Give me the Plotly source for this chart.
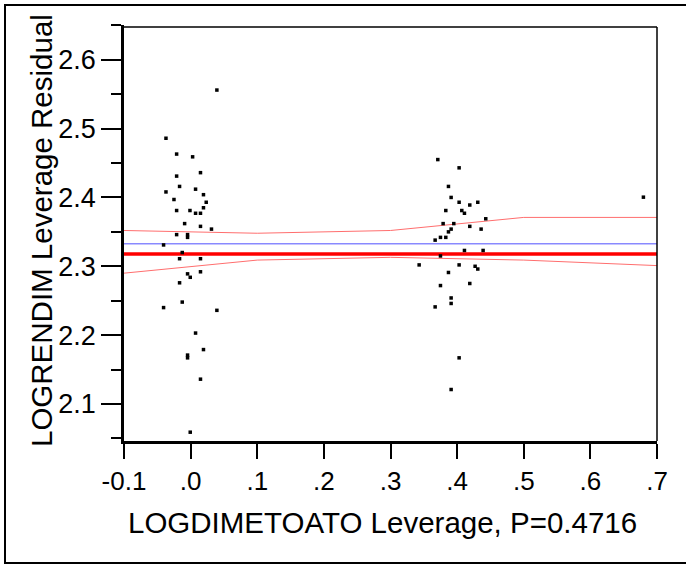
import plotly.graph_objects as go

# ---- data ----
lev_x_a = [0.0394, -0.037, -0.021, 0.003, 0.0148, -0.021, -0.0166, 0.0074, -0.037, 0.0193,
           -0.025, 0.0234, 0.0193, -0.021, -0.001, 0.0074, 0.0148, -0.009, 0.0148, 0.0313,
           -0.021, -0.0046, -0.0046, -0.0406, -0.0126, -0.0166, 0.0148, -0.0046, -0.0006, 0.0148,
           -0.0166, -0.0126, -0.0406, 0.0394, 0.0074, 0.0193, -0.0046, -0.0046, 0.0148, -0.0006]
res_y_a = [2.556, 2.486, 2.463, 2.459, 2.436, 2.431, 2.416, 2.412, 2.408, 2.404,
           2.397, 2.393, 2.385, 2.381, 2.381, 2.377, 2.377, 2.362, 2.358, 2.354,
           2.346, 2.346, 2.342, 2.331, 2.320, 2.311, 2.311, 2.289, 2.284, 2.292,
           2.276, 2.248, 2.240, 2.236, 2.203, 2.179, 2.171, 2.167, 2.136, 2.059]

lev_x_b = [0.371, 0.403, 0.387, 0.391, 0.403, 0.419, 0.431, 0.383, 0.407, 0.411,
           0.443, 0.379, 0.395, 0.419, 0.391, 0.387, 0.436, 0.375, 0.383, 0.367,
           0.411, 0.439, 0.375, 0.343, 0.403, 0.427, 0.431, 0.387, 0.375, 0.419,
           0.391, 0.391, 0.367, 0.403, 0.391, 0.6796]
res_y_b = [2.455, 2.443, 2.416, 2.400, 2.393, 2.389, 2.393, 2.381, 2.381, 2.377,
           2.369, 2.362, 2.362, 2.358, 2.354, 2.350, 2.354, 2.342, 2.342, 2.338,
           2.323, 2.323, 2.315, 2.302, 2.302, 2.300, 2.296, 2.291, 2.272, 2.275,
           2.254, 2.246, 2.241, 2.167, 2.121, 2.4004]

fit_x = [-0.1, 0.7]
fit_y = [2.318, 2.318]
mean_y = [2.3326, 2.3326]

ci_x = [-0.1, 0.1, 0.3, 0.5, 0.7]
ci_upper = [2.352, 2.348, 2.352, 2.371, 2.371]
ci_lower = [2.290, 2.309, 2.313, 2.309, 2.301]

x_tickvals = [-0.1, 0.0, 0.1, 0.2, 0.3, 0.4, 0.5, 0.6, 0.7]
x_ticktext = ["-0.1", ".0", ".1", ".2", ".3", ".4", ".5", ".6", ".7"]
y_tickvals = [2.1, 2.2, 2.3, 2.4, 2.5, 2.6]
y_ticktext = ["2.1", "2.2", "2.3", "2.4", "2.5", "2.6"]

x_title = "LOGDIMETOATO Leverage, P=0.4716"
y_title = "LOGRENDIM Leverage Residual"

FONT = "Liberation Sans, Arial, sans-serif"

fig = go.Figure()
fig.add_trace(go.Scatter(x=fit_x, y=mean_y, mode="lines",
                         line=dict(color="rgb(80,80,255)", width=1), hoverinfo="skip"))
fig.add_trace(go.Scatter(x=ci_x, y=ci_upper, mode="lines",
                         line=dict(color="rgb(255,110,110)", width=1), hoverinfo="skip"))
fig.add_trace(go.Scatter(x=ci_x, y=ci_lower, mode="lines",
                         line=dict(color="rgb(255,110,110)", width=1), hoverinfo="skip"))
fig.add_trace(go.Scatter(x=fit_x, y=fit_y, mode="lines",
                         line=dict(color="rgb(255,0,0)", width=3.5), hoverinfo="skip"))
fig.add_trace(go.Scatter(x=lev_x_a + lev_x_b, y=res_y_a + res_y_b, mode="markers",
                         marker=dict(symbol="square", size=3.5, color="black",
                                     line=dict(width=0))))

W, H = 686, 564
L, R, T, B = 124, 29, 25, 123
pw, ph = W - L - R, H - T - B


def px_x(p):
    return (p - L) / pw


def px_y(p):
    return (H - B - p) / ph


fig.update_layout(
    width=W, height=H,
    margin=dict(l=L, r=R, t=T, b=B),
    paper_bgcolor="white", plot_bgcolor="white",
    showlegend=False,
    font=dict(family=FONT, color="black"),
    xaxis=dict(range=[-0.1, 0.7], tickvals=x_tickvals, ticktext=x_ticktext,
               showgrid=False, zeroline=False, showline=True, linecolor="black",
               linewidth=2.5, ticks="outside", ticklen=15, tickwidth=2, tickcolor="black",
               tickfont=dict(size=26, family=FONT)),
    yaxis=dict(range=[2.0462, 2.6505], tickvals=y_tickvals, ticktext=y_ticktext,
               showgrid=False, zeroline=False, showline=True, linecolor="black",
               linewidth=2.5, ticks="outside", ticklen=20, tickwidth=2, tickcolor="black",
               tickfont=dict(size=27, family=FONT),
               minor=dict(ticks="outside", ticklen=10, tickwidth=2, tickcolor="black",
                          dtick=0.1, tick0=2.05, showgrid=False)),
    shapes=[
        dict(type="line", xref="paper", yref="paper", x0=0, x1=1,
             y0=px_y(27), y1=px_y(27), line=dict(color="black", width=1.5)),
        dict(type="line", xref="paper", yref="paper", x0=1, x1=1,
             y0=0, y1=px_y(27), line=dict(color="black", width=1.5)),
        dict(type="rect", xref="paper", yref="paper", x0=px_x(5), x1=px_x(720),
             y0=px_y(563), y1=px_y(5), line=dict(color="black", width=2)),
    ],
    annotations=[
        dict(text=x_title, xref="paper", yref="paper", x=px_x(382), y=px_y(522),
             xanchor="center", yanchor="middle", showarrow=False,
             font=dict(size=29.5, family=FONT)),
        dict(text=y_title, xref="paper", yref="paper", x=px_x(41), y=px_y(231),
             xanchor="center", yanchor="middle", showarrow=False, textangle=-90,
             font=dict(size=29.5, family=FONT)),
    ],
)

fig.write_html("out.html", config={"displayModeBar": False},
               post_script="document.body.style.margin='0px';document.body.style.overflow='hidden';")
